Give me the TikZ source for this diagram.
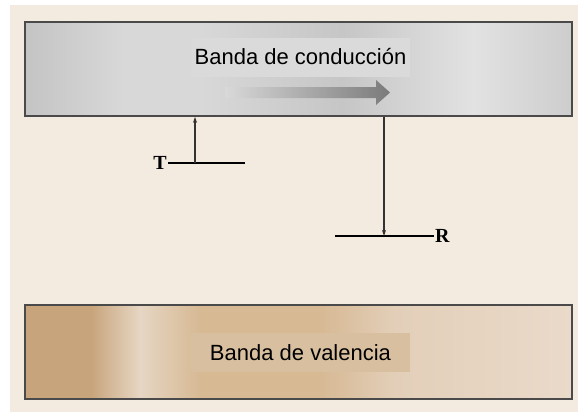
\documentclass[tikz,border=0pt]{standalone}
\usepackage{fontspec}
\setmainfont{Liberation Serif}
\newfontfamily\labelfont{Liberation Sans}
\usetikzlibrary{arrows.meta}
\definecolor{cream}{HTML}{F3EBDF}
\definecolor{bandline}{HTML}{4A4A4A}
\definecolor{condbox}{HTML}{DADADA}
\definecolor{valbox}{HTML}{D8BF9F}
\definecolor{cond1}{HTML}{C4C4C4}
\definecolor{cond2}{HTML}{D8D8D8}
\definecolor{cond3}{HTML}{C6C6C6}
\definecolor{cond4}{HTML}{E2E2E2}
\definecolor{cond5}{HTML}{CDCDCD}
\definecolor{val1}{HTML}{C8A47C}
\definecolor{val2}{HTML}{E6D6C3}
\definecolor{val3}{HTML}{D7B994}
\definecolor{val4}{HTML}{E3CFB9}
\definecolor{val5}{HTML}{EADACA}
\pgfdeclarehorizontalshading{condband}{100bp}{%
  color(0bp)=(cond1); color(25bp)=(cond1); color(34bp)=(cond2);
  color(41bp)=(cond2); color(54bp)=(cond3); color(66bp)=(cond4);
  color(75bp)=(cond5); color(100bp)=(cond5)}
\pgfdeclarehorizontalshading{valband}{100bp}{%
  color(0bp)=(val1); color(25bp)=(val1); color(31bp)=(val1);
  color(35.5bp)=(val2); color(41bp)=(val3); color(52bp)=(val3);
  color(59bp)=(val4); color(75bp)=(val5); color(100bp)=(val5)}
\tikzset{
  band/.style={draw=bandline,line width=1.6pt,minimum width=547pt,
    minimum height=94pt,inner sep=0pt},
  bandlabel/.style={font=\labelfont\fontsize{22}{26}\selectfont,
    minimum width=219pt,minimum height=39pt,inner sep=0pt},
  level/.style={line width=2.6pt},
  jump/.style={line width=1.1pt,black!80,-{Stealth[length=6pt,width=4pt]}},
  levlabel/.style={font=\fontsize{20}{24}\selectfont\bfseries,inner sep=1pt}
}
\begin{document}
\begin{tikzpicture}[x=1pt,y=-1pt]
  \useasboundingbox (0,0) rectangle (578,415);
  \fill[cream] (10,5) rectangle (578,412);
  % bands
  \node[band,shading=condband] (cond) at (298.5,69) {};
  \node[band,shading=valband] (val) at (298.5,352) {};
  \node[bandlabel,fill=condbox] (condlbl) at (300.5,57) {Banda de conducción};
  \node[bandlabel,fill=valbox] (vallbl) at (300.5,352.5) {Banda de valencia};
  % drift arrow
  \shade[left color=black!15,right color=black!52]
    (225,87) -- (376,87) -- (376,80) -- (390,92.5) --
    (376,105) -- (376,98) -- (225,98) -- cycle;
  % trap level T
  \coordinate (t1) at (168,163);
  \coordinate (t2) at (245,163);
  \coordinate (tjump) at (195,163);
  \draw[level] (t1) -- (t2);
  \node[levlabel,anchor=east] (tlbl) at (t1) {T};
  \draw[jump] (tjump) -- (tjump |- cond.south);
  % recombination level R
  \coordinate (r1) at (335,236);
  \coordinate (r2) at (434,236);
  \coordinate (rjump) at (384,236);
  \draw[level] (r1) -- (r2);
  \node[levlabel,anchor=west] (rlbl) at (r2) {R};
  \draw[jump] (rjump |- cond.south) -- (rjump);
\end{tikzpicture}
\end{document}
